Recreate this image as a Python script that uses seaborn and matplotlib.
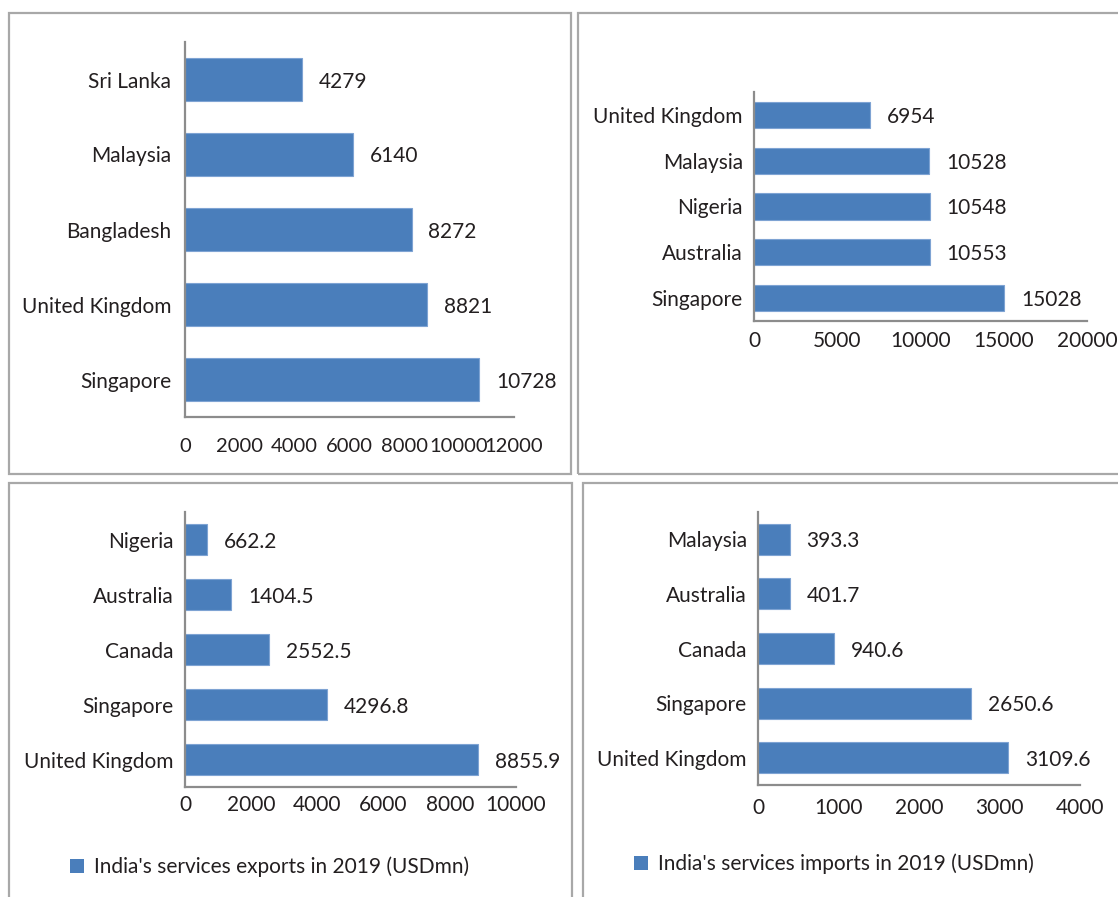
import matplotlib
matplotlib.use("Agg")
import matplotlib.pyplot as plt
import seaborn as sns
import pandas as pd
from matplotlib.patches import Rectangle, Patch

# India's services trade, 2019 (USD mn)
exp_top_countries = ["Sri Lanka", "Malaysia", "Bangladesh", "United Kingdom", "Singapore"]
exp_top_values = [4279, 6140, 8272, 8821, 10728]
exp_top_ticks = [0, 2000, 4000, 6000, 8000, 10000, 12000]

imp_top_countries = ["United Kingdom", "Malaysia", "Nigeria", "Australia", "Singapore"]
imp_top_values = [6954, 10528, 10548, 10553, 15028]
imp_top_ticks = [0, 5000, 10000, 15000, 20000]

exp_bot_countries = ["Nigeria", "Australia", "Canada", "Singapore", "United Kingdom"]
exp_bot_values = [662.2, 1404.5, 2552.5, 4296.8, 8855.9]
exp_bot_ticks = [0, 2000, 4000, 6000, 8000, 10000]

imp_bot_countries = ["Malaysia", "Australia", "Canada", "Singapore", "United Kingdom"]
imp_bot_values = [393.3, 401.7, 940.6, 2650.6, 3109.6]
imp_bot_ticks = [0, 1000, 2000, 3000, 4000]

exp_legend = "India's services exports in 2019 (USDmn)"
imp_legend = "India's services imports in 2019 (USDmn)"

BAR = "#4a7ebb"
TXT = "#231f20"
AXIS = "#8c8c8c"
FRAME = "#a8a8a8"
FS = 15

sns.set_style("white")
plt.rcParams["font.family"] = ["Lato", "DejaVu Sans"]

W, H = 1118, 897
fig = plt.figure(figsize=(W / 100, H / 100), dpi=100)
fig.patch.set_facecolor("white")


def box(x0, y0, x1, y1):
    return [x0 / W, 1 - y1 / H, (x1 - x0) / W, (y1 - y0) / H]


def frame(x0, y0, x1, y1):
    fig.add_artist(Rectangle((x0 / W, 1 - y1 / H), (x1 - x0) / W, (y1 - y0) / H,
                             transform=fig.transFigure, fill=False,
                             edgecolor=FRAME, linewidth=1.6))


def panel(rect, countries, values, ticks, fmt, xpad, ypad, xfs=FS):
    ax = fig.add_axes(box(*rect))
    df = pd.DataFrame({"country": countries, "value": values})
    sns.barplot(data=df, x="value", y="country", order=countries, orient="h",
                color=BAR, saturation=1, width=0.57, edgecolor="#7ea3d3",
                linewidth=0.8, ax=ax)
    ax.set_xlim(ticks[0], ticks[-1])
    ax.set_ylim(len(countries) - 0.5, -0.5)
    ax.set_xticks(ticks)
    ax.set_xticklabels([str(t) for t in ticks])
    texts = ax.bar_label(ax.containers[0], labels=[fmt(v) for v in values],
                         padding=12, fontsize=FS, color=TXT)
    for t in texts:
        t.set_verticalalignment("center_baseline")
    ax.set_xlabel("")
    ax.set_ylabel("")
    for side in ("top", "right"):
        ax.spines[side].set_visible(False)
    for side in ("left", "bottom"):
        ax.spines[side].set_color(AXIS)
        ax.spines[side].set_linewidth(1.6)
    ax.tick_params(axis="x", length=0, pad=xpad, labelsize=xfs, labelcolor=TXT)
    ax.tick_params(axis="y", length=0, pad=ypad, labelsize=FS, labelcolor=TXT)
    ax.patch.set_alpha(0)
    return ax


# panel frames
frame(9, 13, 571, 474)
frame(578, 13, 1130, 474)
frame(9, 483, 572, 910)
frame(583, 483, 1130, 910)

panel((185, 42, 514, 417), exp_top_countries, exp_top_values, exp_top_ticks,
      lambda v: f"{v:d}", 15, 10, xfs=14.5)
panel((754, 92, 1087, 321), imp_top_countries, imp_top_values, imp_top_ticks,
      lambda v: f"{v:d}", 7, 8)
panel((185, 512, 516, 787), exp_bot_countries, exp_bot_values, exp_bot_ticks,
      lambda v: f"{v:.1f}", 6, 8)
panel((758, 512, 1080, 785), imp_bot_countries, imp_bot_values, imp_bot_ticks,
      lambda v: f"{v:.1f}", 9, 8)

for label, (lx, ly) in ((exp_legend, (70, 867)), (imp_legend, (634, 864))):
    fig.legend(handles=[Patch(facecolor=BAR, edgecolor="none")], labels=[label],
               loc="center left", bbox_to_anchor=(lx / W, 1 - ly / H),
               frameon=False, fontsize=FS, handlelength=0.68, handleheight=0.68,
               handletextpad=0.45, borderpad=0, borderaxespad=0, labelcolor=TXT)

fig.savefig("out.png", dpi=100, facecolor="white")
